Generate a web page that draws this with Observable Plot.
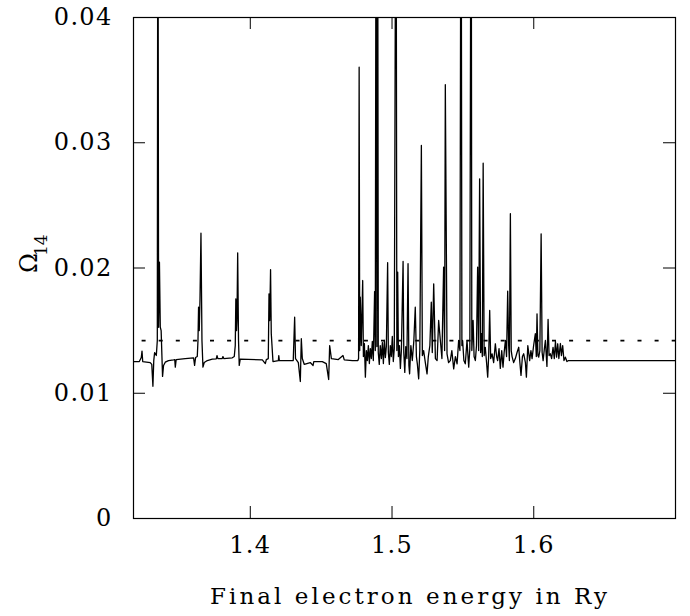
<!DOCTYPE html>
<html><head><meta charset="utf-8">
<script src="https://cdn.jsdelivr.net/npm/d3@7"></script>
<script src="https://cdn.jsdelivr.net/npm/@observablehq/plot@0.6"></script>
<style>html,body{margin:0;padding:0;background:#fff}</style>
</head><body><div id="chart"></div>
<script>
// Final electron energy (Ry)
const energy = [
1.3176,1.3217,1.3231,1.3236,1.3241,1.3294,1.3305,1.3313,1.3319,1.3325,
1.3337,1.3344,1.3348,1.3353,1.3359,1.3365,1.3371,1.3381,1.3388,1.3400,
1.3423,1.3459,1.3467,1.3471,1.3477,1.3541,1.3600,1.3607,1.3614,1.3626,
1.3631,1.3635,1.3640,1.3645,1.3652,1.3659,1.3666,1.3675,1.3697,1.3732,
1.3760,1.3765,1.3771,1.3802,1.3807,1.3813,1.3873,1.3887,1.3894,1.3898,
1.3903,1.3906,1.3911,1.3917,1.3922,1.3929,1.4085,1.4106,1.4113,1.4127,
1.4132,1.4137,1.4143,1.4148,1.4160,1.4198,1.4201,1.4205,1.4303,1.4313,
1.4319,1.4339,1.4353,1.4360,1.4367,1.4381,1.4423,1.4443,1.4448,1.4508,
1.4536,1.4553,1.4560,1.4572,1.4621,1.4654,1.4663,1.4720,1.4759,1.4764,
1.4768,1.4772,1.4776,1.4783,1.4793,1.4798,1.4805,1.4812,1.4819,1.4826,
1.4833,1.4840,1.4847,1.4854,1.4861,1.4868,1.4877,1.4882,1.4888,1.4893,
1.4898,1.4903,1.4910,1.4917,1.4925,1.4932,1.4939,1.4946,1.4953,1.4960,
1.4969,1.4974,1.4981,1.4988,1.4995,1.5002,1.5009,1.5016,1.5028,1.5034,
1.5040,1.5045,1.5052,1.5059,1.5066,1.5078,1.5083,1.5090,1.5097,1.5105,
1.5113,1.5119,1.5124,1.5133,1.5143,1.5154,1.5164,1.5172,1.5179,1.5188,
1.5196,1.5207,1.5214,1.5223,1.5235,1.5247,1.5256,1.5267,1.5277,1.5284,
1.5294,1.5306,1.5318,1.5329,1.5341,1.5352,1.5364,1.5371,1.5376,1.5388,
1.5399,1.5411,1.5422,1.5435,1.5447,1.5459,1.5470,1.5479,1.5487,1.5493,
1.5498,1.5507,1.5517,1.5529,1.5541,1.5549,1.5558,1.5563,1.5572,1.5579,
1.5588,1.5596,1.5604,1.5611,1.5618,1.5625,1.5630,1.5637,1.5643,1.5650,
1.5658,1.5667,1.5675,1.5682,1.5689,1.5696,1.5706,1.5717,1.5729,1.5738,
1.5745,1.5755,1.5764,1.5774,1.5783,1.5791,1.5800,1.5808,1.5816,1.5823,
1.5828,1.5835,1.5841,1.5847,1.5858,1.5870,1.5882,1.5894,1.5902,1.5910,
1.5920,1.5929,1.5941,1.5948,1.5958,1.5971,1.5980,1.5988,1.5999,1.6011,
1.6018,1.6023,1.6029,1.6035,1.6043,1.6052,1.6059,1.6066,1.6075,1.6082,
1.6093,1.6101,1.6108,1.6117,1.6126,1.6136,1.6145,1.6153,1.6161,1.6169,
1.6177,1.6188,1.6195,1.6204,1.6213,1.6223,1.6234,1.6246,1.7000
];
// Collision strength Omega_14
const omega = [
0.01253,0.01253,0.01285,0.01337,0.01253,0.01245,0.01230,0.01056,0.01261,0.01325,
0.01301,0.01421,0.06000,0.01527,0.02046,0.01527,0.01500,0.01134,0.01222,0.01248,
0.01261,0.01267,0.01269,0.01208,0.01269,0.01277,0.01283,0.01222,0.01285,0.01293,
0.01421,0.01687,0.01501,0.01741,0.02278,0.01421,0.01208,0.01245,0.01261,0.01272,
0.01274,0.01301,0.01277,0.01277,0.01293,0.01277,0.01283,0.01293,0.01381,0.01754,
0.01501,0.01581,0.02121,0.01421,0.01222,0.01272,0.01266,0.01237,0.01269,0.01277,
0.01794,0.01581,0.01986,0.01477,0.01253,0.01261,0.01301,0.01261,0.01261,0.01607,
0.01277,0.01245,0.01094,0.01435,0.01277,0.01230,0.01245,0.01222,0.01253,0.01253,
0.01237,0.01110,0.01381,0.01277,0.01269,0.01301,0.01266,0.01261,0.01261,0.01277,
0.03603,0.01341,0.01767,0.01381,0.01900,0.01293,0.01397,0.01128,0.01341,0.01261,
0.01381,0.01237,0.01357,0.01277,0.01413,0.01261,0.01812,0.01341,0.06000,0.01373,
0.06000,0.01325,0.01230,0.01381,0.01277,0.01405,0.01237,0.01421,0.01285,0.01373,
0.02042,0.01325,0.01230,0.01381,0.01293,0.01453,0.01253,0.01357,0.06000,0.01341,
0.01966,0.01293,0.01381,0.01198,0.01341,0.02052,0.01325,0.01166,0.01373,0.01277,
0.02034,0.01222,0.01155,0.01381,0.01261,0.01421,0.01687,0.01293,0.01230,0.01115,
0.01341,0.02978,0.01301,0.01341,0.01245,0.01155,0.01293,0.01381,0.01727,0.01325,
0.01874,0.01277,0.01261,0.01581,0.01421,0.01277,0.02007,0.01341,0.03463,0.01315,
0.01245,0.01261,0.01341,0.01195,0.01293,0.01235,0.01421,0.01341,0.06000,0.01381,
0.01421,0.01261,0.01235,0.01421,0.01208,0.01357,0.06000,0.01341,0.01581,0.01293,
0.01261,0.01381,0.02007,0.01341,0.02712,0.01325,0.01475,0.01293,0.02837,0.01301,
0.01367,0.01245,0.01128,0.01301,0.01661,0.01277,0.01315,0.01245,0.01395,0.01293,
0.01261,0.01357,0.01198,0.01341,0.01208,0.01325,0.01421,0.01293,0.01815,0.01381,
0.01261,0.02433,0.01341,0.01293,0.01245,0.01277,0.01325,0.01367,0.01245,0.01142,
0.01293,0.01315,0.01245,0.01128,0.01381,0.01261,0.01341,0.01277,0.01381,0.01475,
0.01293,0.01634,0.01301,0.01288,0.01341,0.02273,0.01325,0.01261,0.01357,0.01421,
0.01214,0.01589,0.01301,0.01315,0.01277,0.01367,0.01277,0.01413,0.01288,0.01395,
0.01277,0.01397,0.01301,0.01381,0.01261,0.01288,0.01253,0.01261,0.01261
];
const referenceLevel = [0.0142];
const xTicks = [1.4, 1.5, 1.6];
const xTickLabels = ["1.4", "1.5", "1.6"];
const yTicks = [0, 0.01, 0.02, 0.03, 0.04];
const yTickLabels = ["0", "0.01", "0.02", "0.03", "0.04"];
const xDomain = [1.3176, 1.70];
const yDomain = [0, 0.04];
const xTitle = ["Final electron energy in Ry"];
const yTitle = ["Ω"];
const yTitleSub = ["14"];

const points = energy.map((e, i) => ({e, o: omega[i]}));

const W = 690, H = 616, mL = 133, mR = 15, mT = 17, mB = 98;
const pw = W - mL - mR, ph = H - mT - mB, tk = 12;
const font = "'DejaVu Serif', serif";

const chart = Plot.plot({
  width: W, height: H,
  marginLeft: mL, marginRight: mR, marginTop: mT, marginBottom: mB,
  x: {domain: xDomain},
  y: {domain: yDomain},
  style: {fontFamily: font, fontSize: "23px", color: "#000", background: "#fff", overflow: "visible"},
  marks: [
    Plot.ruleY(referenceLevel, {stroke: "#000", strokeWidth: 1.6, strokeDasharray: "4,13.1", strokeDashoffset: 8.5}),
    Plot.line(points, {x: "e", y: "o", stroke: "#000", strokeWidth: 1.3, clip: true}),
    Plot.frame({stroke: "#000", strokeWidth: 1.2}),
    Plot.tickX(xTicks, {x: d => d, insetTop: ph - tk, stroke: "#000"}),
    Plot.tickX(xTicks, {x: d => d, insetBottom: ph - tk, stroke: "#000"}),
    Plot.tickY(yTicks, {y: d => d, insetRight: pw - tk, stroke: "#000"}),
    Plot.tickY(yTicks, {y: d => d, insetLeft: pw - tk, stroke: "#000"}),
    Plot.axisX(xTicks, {tickSize: 0, tickPadding: 17, tickFormat: d => xTickLabels[xTicks.indexOf(d)], label: null, fontSize: 24}),
    Plot.axisY(yTicks, {tickSize: 0, tickPadding: 21, tickFormat: d => yTickLabels[yTicks.indexOf(d)], label: null, fontSize: 24}),
    Plot.text(xTitle, {text: d => d, frameAnchor: "bottom", dx: 4, dy: 85, fontSize: 23, fill: "#000"}),
    Plot.text(yTitle, {text: d => d, frameAnchor: "left", dx: -104, dy: 5, rotate: -90, fontSize: 24, fill: "#000"}),
    Plot.text(yTitleSub, {text: d => d, frameAnchor: "left", dx: -92, dy: -12, rotate: -90, fontSize: 17, fill: "#000"})
  ]
});
chart.querySelectorAll("text").forEach(t => {
  if (t.textContent === xTitle[0]) {
    t.setAttribute("textLength", "397");
    t.setAttribute("lengthAdjust", "spacing");
  }
});
chart.querySelectorAll('g[aria-label="x-axis tick label"] text, g[aria-label="y-axis tick label"] text').forEach(t => { t.style.letterSpacing = "1.3px"; });
document.getElementById("chart").appendChild(chart);
</script>
</body></html>
